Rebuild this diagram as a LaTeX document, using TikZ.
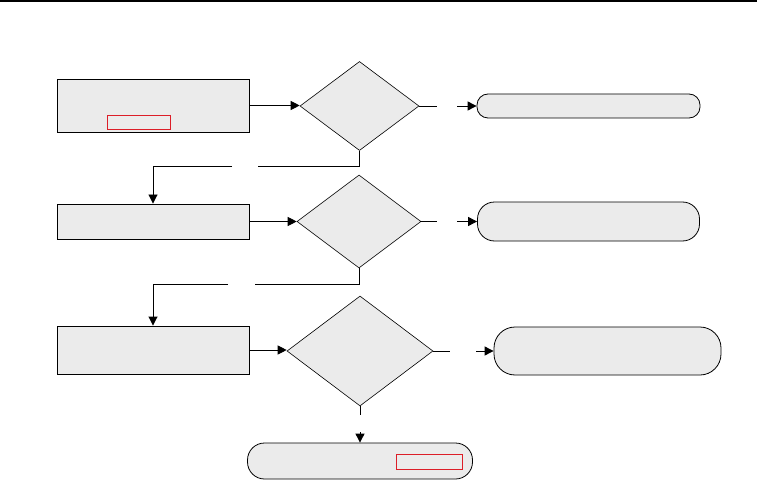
\documentclass[tikz,border=0pt]{standalone}
\usepackage{tikz}
\usetikzlibrary{shapes.geometric,arrows.meta,positioning,calc}
\definecolor{boxfill}{RGB}{235,235,235}
\definecolor{markred}{RGB}{220,30,40}

\begin{document}
\begin{tikzpicture}[x=1pt,y=-1pt,
  procbox/.style={draw=black, line width=0.9pt, fill=boxfill, minimum width=192pt, inner sep=0pt},
  decision/.style={diamond, draw=black, line width=0.6pt, fill=boxfill, inner sep=0pt},
  terminal/.style={draw=black, line width=0.8pt, fill=boxfill, rounded corners=#1, inner sep=0pt},
  markbox/.style={draw=markred, line width=0.8pt, inner sep=0pt},
  flow/.style={line width=0.9pt, -{Triangle[length=9pt,width=9pt]}},
  plain/.style={line width=0.9pt}
]

\useasboundingbox (0,0) rectangle (757,481);

% top rule
\fill[black] (0,0) rectangle (757,2);

% ================= PROCESS BOXES =================
\node[procbox, minimum height=53pt] (box1) at (153,105.5) {};
\node[procbox, minimum height=35pt] (box2) at (153,221.5) {};
\node[procbox, minimum height=48pt] (box3) at (153,350) {};

\node[markbox, minimum width=63pt, minimum height=14pt] (mark1) at (138.5,122) {};

% ================= DECISIONS =================
\node[decision, minimum width=119pt, minimum height=89pt] (dec1) at (359.5,106) {};
\node[decision, minimum width=124pt, minimum height=93pt] (dec2) at (359,221.5) {};
\node[decision, minimum width=146pt, minimum height=110pt] (dec3) at (360,351) {};

% ================= TERMINALS =================
\node[terminal=11pt, minimum width=223pt, minimum height=24pt] (term1) at (588.5,106) {};
\node[terminal=17pt, minimum width=222pt, minimum height=39pt] (term2) at (588.5,221.5) {};
\node[terminal=21pt, minimum width=227pt, minimum height=48pt] (term3) at (607.5,351) {};
\node[terminal=17pt, minimum width=225pt, minimum height=36pt] (term4) at (360,461) {};

\node[markbox, minimum width=66pt, minimum height=15pt] (mark2) at (429,461.5) {};

% ================= CONNECTORS =================
% gap points (label gaps)
\coordinate (g1a) at ($(dec1.east)+(18,0)$);
\coordinate (g1b) at ($(dec1.east)+(38,0)$);
\coordinate (g2a) at ($(dec2.east)+(16,0)$);
\coordinate (g2b) at ($(dec2.east)+(36,0)$);
\coordinate (g3a) at ($(dec3.east)+(17,0)$);
\coordinate (g3b) at ($(dec3.east)+(43,0)$);
\coordinate (d1a) at (258,166);
\coordinate (d1b) at (232,166);
\coordinate (d2a) at (255,284);
\coordinate (d2b) at (228,284);
\coordinate (d3a) at ($(dec3.south)+(0,9)$);
\coordinate (d3b) at ($(dec3.south)+(0,26)$);

\draw[flow] (box1.east) -- (box1.east -| dec1.west);
\draw[flow] (box2.east) -- (box2.east -| dec2.west);
\draw[flow] (box3.east) -- (box3.east -| dec3.west);

\draw[plain] (dec1.east) -- (g1a);
\draw[flow] (g1b) -- (term1.west);
\draw[plain] (dec2.east) -- (g2a);
\draw[flow] (g2b) -- (term2.west);
\draw[plain] (dec3.east) -- (g3a);
\draw[flow] (g3b) -- (term3.west);

\draw[plain] (dec1.south) |- (d1a);
\draw[flow] (d1b) -| (box2.north);
\draw[plain] (dec2.south) |- (d2a);
\draw[flow] (d2b) -| (box3.north);

\draw[plain] (dec3.south) -- (d3a);
\draw[flow] (d3b) -- (term4.north);

\end{tikzpicture}
\end{document}
